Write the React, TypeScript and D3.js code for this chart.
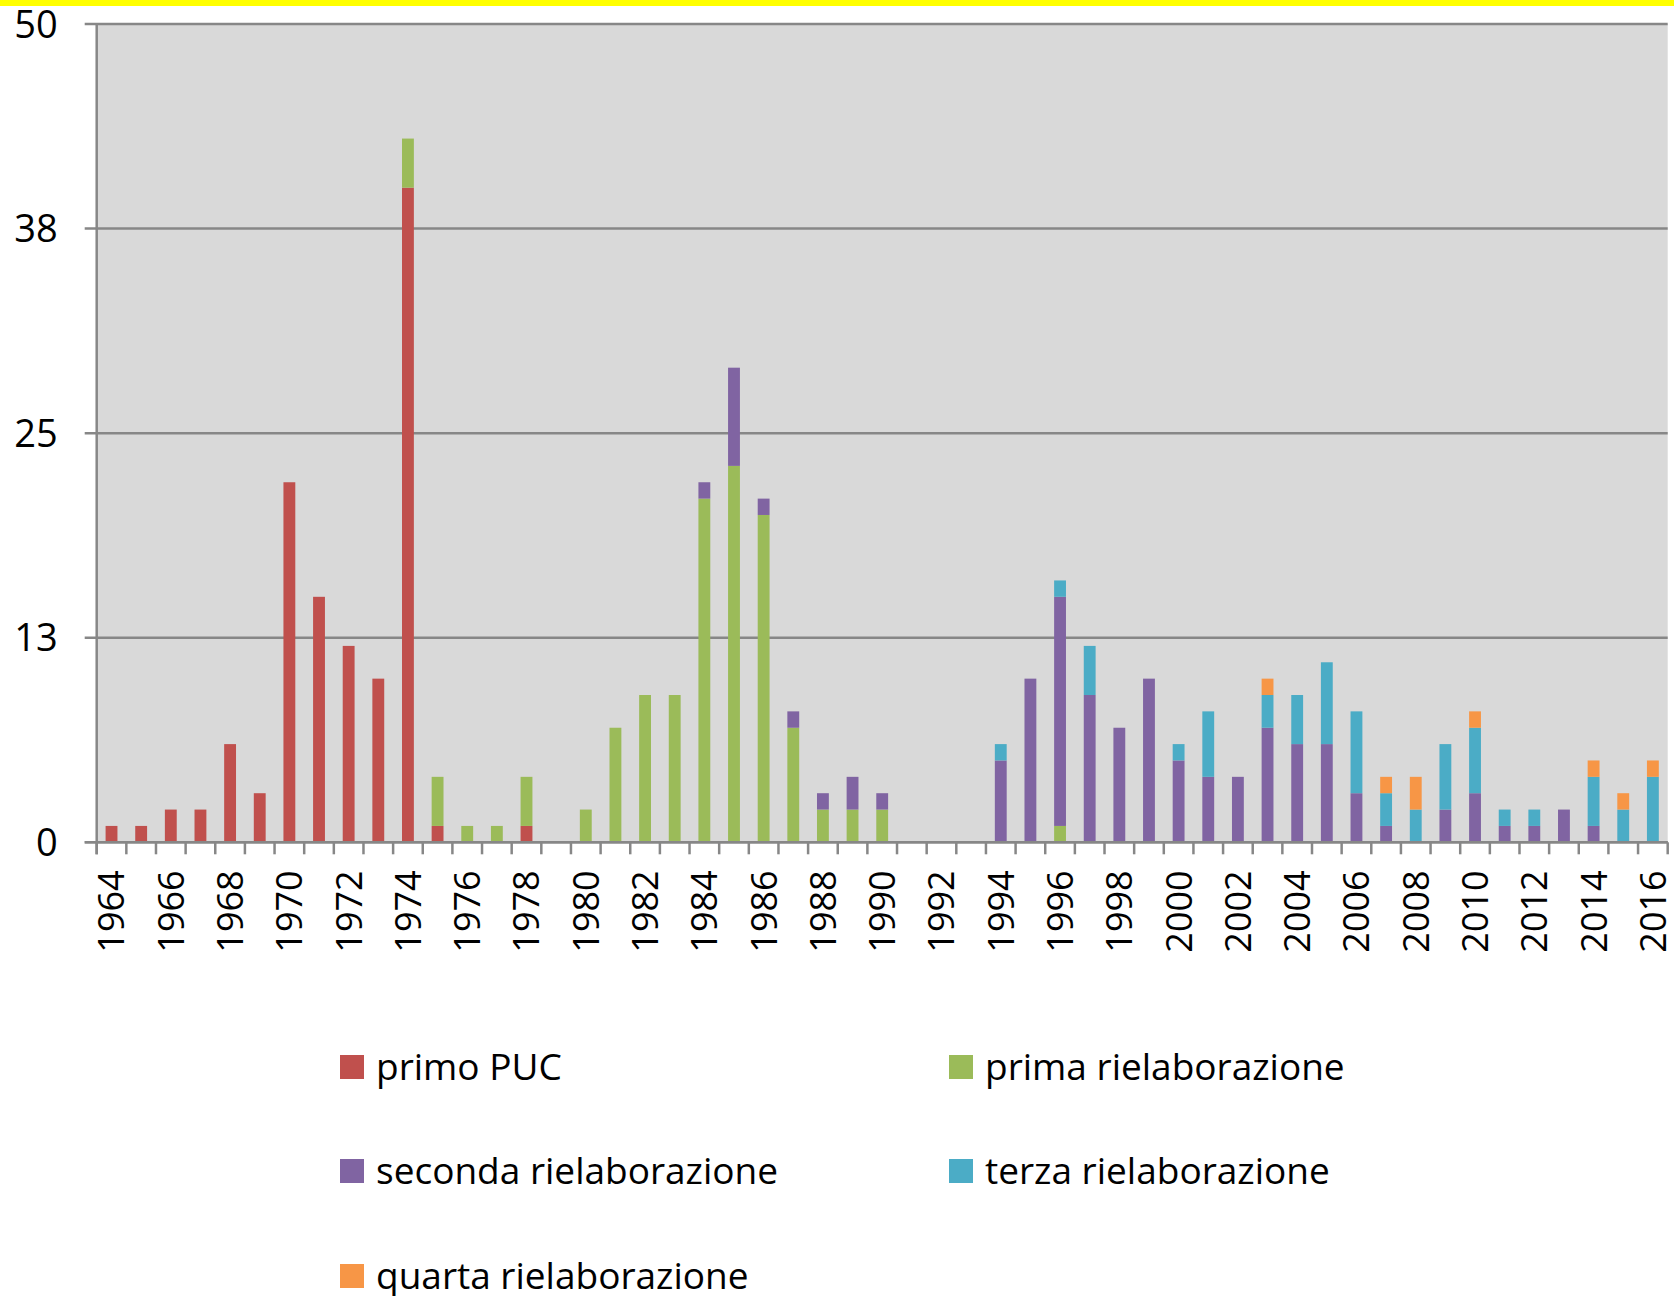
import * as d3 from "d3";
import { useEffect, useRef } from "react";

const years = [
    1964, 1965, 1966, 1967, 1968, 1969, 1970, 1971, 1972, 1973,
    1974, 1975, 1976, 1977, 1978, 1979, 1980, 1981, 1982, 1983,
    1984, 1985, 1986, 1987, 1988, 1989, 1990, 1991, 1992, 1993,
    1994, 1995, 1996, 1997, 1998, 1999, 2000, 2001, 2002, 2003,
    2004, 2005, 2006, 2007, 2008, 2009, 2010, 2011, 2012, 2013,
    2014, 2015, 2016,
];

const primoPUC = [
    1, 1, 2, 2, 6, 3, 22, 15, 12, 10,
    40, 1, 0, 0, 1, 0, 0, 0, 0, 0,
    0, 0, 0, 0, 0, 0, 0, 0, 0, 0,
    0, 0, 0, 0, 0, 0, 0, 0, 0, 0,
    0, 0, 0, 0, 0, 0, 0, 0, 0, 0,
    0, 0, 0,
];

const primaRielab = [
    0, 0, 0, 0, 0, 0, 0, 0, 0, 0,
    3, 3, 1, 1, 3, 0, 2, 7, 9, 9,
    21, 23, 20, 7, 2, 2, 2, 0, 0, 0,
    0, 0, 1, 0, 0, 0, 0, 0, 0, 0,
    0, 0, 0, 0, 0, 0, 0, 0, 0, 0,
    0, 0, 0,
];

const secondaRielab = [
    0, 0, 0, 0, 0, 0, 0, 0, 0, 0,
    0, 0, 0, 0, 0, 0, 0, 0, 0, 0,
    1, 6, 1, 1, 1, 2, 1, 0, 0, 0,
    5, 10, 14, 9, 7, 10, 5, 4, 4, 7,
    6, 6, 3, 1, 0, 2, 3, 1, 1, 2,
    1, 0, 0,
];

const terzaRielab = [
    0, 0, 0, 0, 0, 0, 0, 0, 0, 0,
    0, 0, 0, 0, 0, 0, 0, 0, 0, 0,
    0, 0, 0, 0, 0, 0, 0, 0, 0, 0,
    1, 0, 1, 3, 0, 0, 1, 4, 0, 2,
    3, 5, 5, 2, 2, 4, 4, 1, 1, 0,
    3, 2, 4,
];

const quartaRielab = [
    0, 0, 0, 0, 0, 0, 0, 0, 0, 0,
    0, 0, 0, 0, 0, 0, 0, 0, 0, 0,
    0, 0, 0, 0, 0, 0, 0, 0, 0, 0,
    0, 0, 0, 0, 0, 0, 0, 0, 0, 1,
    0, 0, 0, 1, 2, 0, 1, 0, 0, 0,
    1, 1, 1,
];

const seriesNames = [
    "primo PUC",
    "prima rielaborazione",
    "seconda rielaborazione",
    "terza rielaborazione",
    "quarta rielaborazione",
];
const seriesColors = ["#C0504D", "#9BBB59", "#8064A2", "#4BACC6", "#F79646"];

const yTickValues = [0, 12.5, 25, 37.5, 50];
const yTickLabels = ["0", "13", "25", "38", "50"];

export default function App() {
    const svgRef = useRef<SVGSVGElement | null>(null);

    useEffect(() => {
        if (!svgRef.current) return;
        const svg = d3.select(svgRef.current);
        svg.selectAll("*").remove();

        const width = 1674;
        const height = 1296;
        const left = 96.7;
        const right = 1667.7;
        const top = 24;
        const bottom = 842.3;
        const font = "'Open Sans', sans-serif";
        const gridColor = "#878787";

        const allSeries = [primoPUC, primaRielab, secondaRielab, terzaRielab, quartaRielab];
        const rows = years.map((yr, i) => {
            const row: Record<string, number> = { year: yr };
            seriesNames.forEach((n, s) => (row[n] = allSeries[s][i]));
            return row;
        });
        const stacked = d3.stack<Record<string, number>>().keys(seriesNames)(rows);

        const x = d3.scaleBand<number>()
            .domain(years)
            .range([left, right])
            .paddingInner(0.6)
            .paddingOuter(0.3);

        const y = d3.scaleLinear().domain([0, 50]).range([bottom, top]);

        svg.attr("width", width).attr("height", height);

        // yellow strip at the top
        svg.append("rect")
            .attr("x", 0).attr("y", 0)
            .attr("width", width).attr("height", 6)
            .attr("fill", "#FFFF00");

        // plot area
        svg.append("rect")
            .attr("x", left).attr("y", top)
            .attr("width", right - left).attr("height", bottom - top)
            .attr("fill", "#D9D9D9");

        // gridlines + y ticks
        svg.append("g")
            .selectAll("line")
            .data(yTickValues)
            .join("line")
            .attr("x1", left - 12)
            .attr("x2", right)
            .attr("y1", (d) => y(d))
            .attr("y2", (d) => y(d))
            .attr("stroke", gridColor)
            .attr("stroke-width", 2.5);

        svg.append("g")
            .selectAll("text")
            .data(yTickValues)
            .join("text")
            .attr("x", left - 39)
            .attr("y", (d) => y(d))
            .attr("dy", "0.36em")
            .attr("text-anchor", "end")
            .attr("font-family", font)
            .attr("font-size", 38)
            .attr("fill", "#000")
            .text((_, i) => yTickLabels[i]);

        // bars
        svg.append("g")
            .selectAll("g")
            .data(stacked)
            .join("g")
            .attr("fill", (_, i) => seriesColors[i])
            .selectAll("rect")
            .data((d) => d.filter((p) => p[1] - p[0] > 0))
            .join("rect")
            .attr("x", (d) => x(d.data.year)!)
            .attr("width", x.bandwidth())
            .attr("y", (d) => y(d[1]))
            .attr("height", (d) => y(d[0]) - y(d[1]));

        // y axis line
        svg.append("line")
            .attr("x1", left).attr("x2", left)
            .attr("y1", top).attr("y2", bottom + 12)
            .attr("stroke", gridColor)
            .attr("stroke-width", 2.5);

        // x axis line + ticks at category boundaries
        svg.append("line")
            .attr("x1", left - 12).attr("x2", right)
            .attr("y1", bottom).attr("y2", bottom)
            .attr("stroke", gridColor)
            .attr("stroke-width", 2.5);

        const step = x.step();
        svg.append("g")
            .selectAll("line")
            .data(d3.range(years.length + 1))
            .join("line")
            .attr("x1", (i) => left + i * step)
            .attr("x2", (i) => left + i * step)
            .attr("y1", bottom)
            .attr("y2", bottom + 12)
            .attr("stroke", gridColor)
            .attr("stroke-width", 2.5);

        // x labels (every second year)
        svg.append("g")
            .selectAll("text")
            .data(years.filter((_, i) => i % 2 === 0))
            .join("text")
            .attr("transform", (d) => `translate(${x(d)! + x.bandwidth() / 2},${bottom + 28}) rotate(-90)`)
            .attr("dy", "0.36em")
            .attr("text-anchor", "end")
            .attr("font-family", font)
            .attr("font-size", 36)
            .attr("fill", "#000")
            .text((d) => String(d));

        // legend
        const legendX = [340, 949];
        const legendY = [1067, 1171, 1276];
        const legend = svg.append("g")
            .selectAll("g")
            .data(seriesNames)
            .join("g")
            .attr("transform", (_, i) => `translate(${legendX[i % 2]},${legendY[Math.floor(i / 2)]})`);

        legend.append("rect")
            .attr("x", 0).attr("y", -12)
            .attr("width", 24).attr("height", 24)
            .attr("fill", (_, i) => seriesColors[i]);

        legend.append("text")
            .attr("x", 36)
            .attr("y", 0)
            .attr("dy", "0.34em")
            .attr("font-family", font)
            .attr("font-size", 37)
            .attr("fill", "#000")
            .text((d) => d);
    }, []);

    return (
        <svg
            ref={svgRef}
            style={{ position: "absolute", left: 0, top: 0, display: "block" }}
        />
    );
}
